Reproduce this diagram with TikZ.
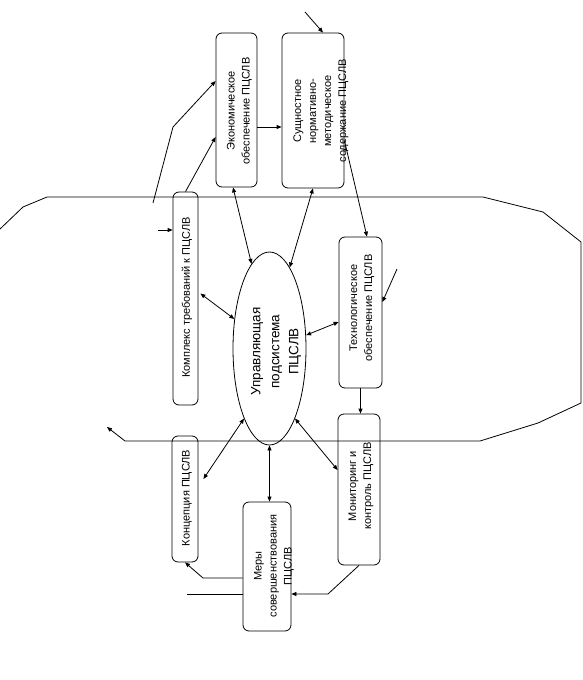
\documentclass[tikz,border=0pt]{standalone}
\usepackage{fontspec}
\setmainfont{Liberation Sans}
\usetikzlibrary{arrows.meta,shapes.geometric,calc}
\begin{document}
\begin{tikzpicture}[x=1pt,y=-1pt,
  box/.style={draw,rounded corners=6pt,line width=0.8pt,inner sep=0pt},
  lbl/.style={rotate=90,align=center,font=\fontsize{11}{15}\selectfont,inner sep=0pt},
  ar/.style={line width=0.8pt,-{Triangle[length=5pt,width=4pt]}},
  dar/.style={line width=0.8pt,{Triangle[length=5pt,width=4pt]}-{Triangle[length=5pt,width=4pt]}},
  ln/.style={line width=0.8pt}]
\fill[white] (0,0) rectangle (583,680);
\useasboundingbox (0,0) rectangle (583,680);

% boxes
\node[box,minimum width=41pt,minimum height=154pt] (eco) at (236.5,110) {};
\node[box,minimum width=62pt,minimum height=155pt] (sush) at (313,110.5) {};
\node[box,minimum width=25pt,minimum height=213pt] (kompl) at (185.5,298.5) {};
\node[draw,ellipse,line width=0.8pt,minimum width=73pt,minimum height=193pt,inner sep=0pt] (ell) at (269.5,348.5) {};
\node[box,minimum width=43pt,minimum height=151pt] (tech) at (360.5,312.5) {};
\node[box,minimum width=42pt,minimum height=151pt] (mon) at (359,489.5) {};
\node[box,minimum width=26pt,minimum height=126pt] (konc) at (185,499) {};
\node[box,minimum width=48pt,minimum height=129pt] (mery) at (267,566.5) {};

% texts
\node[lbl] (ecoT) at (239.5,111) {Экономическое\\обеспечение ПЦСЛВ};
\node[lbl] (sushT) at (321,111) {Сущностное\\нормативно-\\методическое\\содержание ПЦСЛВ};
\node[lbl] (komplT) at (187,297.5) {Комплекс требований к ПЦСЛВ};
\node[lbl,font=\fontsize{13.5}{19}\selectfont] (ellT) at (276,351.5) {Управляющая\\подсистема\\ПЦСЛВ};
\node[lbl] (techT) at (362,308) {Технологическое\\обеспечение ПЦСЛВ};
\node[lbl] (monT) at (361,486) {Мониторинг и\\контроль ПЦСЛВ};
\node[lbl] (koncT) at (187,498) {Концепция ПЦСЛВ};
\node[lbl] (meryT) at (274,566) {Меры\\совершенствования\\ПЦСЛВ};

% environment outline
\draw[ln,-{Triangle[length=5pt,width=4pt]}] (0,229) -- (23,207) -- (47,197) -- (483,197) -- (543,212) -- (581,242) -- (581,403) -- (538,423) -- (480,441) -- (125,441) -- (107,427);

% free ends
\coordinate (inS) at (305,12);
\coordinate (inE) at (153,203);
\coordinate (bE) at (173,127);
\coordinate (inK) at (158,230);
\coordinate (inT) at (397,269);
\coordinate (bM) at (328,594);
\coordinate (bK) at (203,578);
\coordinate (inM) at (187,594);

% connectors
\draw[ar] (inS) -- ([xshift=10pt]sush.north);
\draw[ar] (inE) -- (bE) -- ([yshift=29pt]eco.west);
\draw[ar] (kompl.north) -- ([yshift=-27pt]eco.west);
\draw[dar] ([xshift=-3.5pt]eco.south) -- (ell.102);
\draw[ar] ([yshift=-17pt]eco.east) -- ([yshift=-16.5pt]sush.west);
\draw[dar] (sush.south) -- (ell.76);
\draw[ar] ([yshift=-30pt]sush.east) -- ([xshift=6.5pt]tech.north);
\draw[ar] (inK) -- (kompl.west |- inK);
\draw[dar] ([shift={(2pt,5pt)}]kompl.east) -- (ell.140);
\draw[dar] ([yshift=-9.5pt]tech.west) -- (ell.20);
\draw[ar] (inT) -- ([yshift=10.5pt]tech.east);
\draw[ar] (tech.south) -- (tech.south |- mon.north);
\draw[dar] (ell.250) -- ([shift={(5pt,20pt)}]konc.east);
\draw[dar] (ell.290) -- ([yshift=19.5pt]mon.west);
\draw[dar] (ell.south) -- (ell.south |- mery.north);
\draw[ar] (mon.south) -- (bM) -- (mery.east |- bM);
\draw[ar] (mery.west |- bK) -- (bK) -- (konc.south);
\draw[ln] (inM) -- (mery.west |- inM);
\end{tikzpicture}
\end{document}
